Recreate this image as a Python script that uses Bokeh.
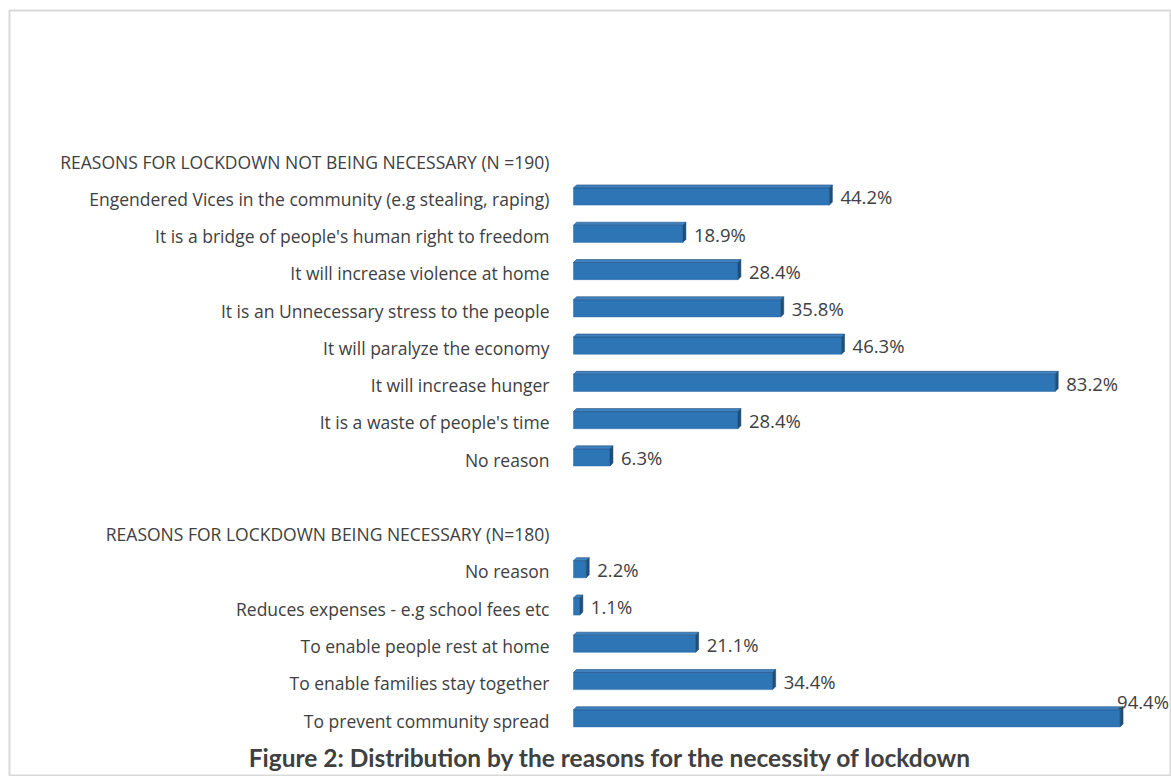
from bokeh.plotting import figure
from bokeh.models import Range1d, ColumnDataSource, Label
from bokeh.core.properties import value
from bokeh.embed import file_html
from bokeh.resources import INLINE

# ---- data ----
header_not_necessary = "REASONS FOR LOCKDOWN NOT BEING NECESSARY (N =190)"
not_necessary_reasons = [
    "Engendered Vices in the community (e.g stealing, raping)",
    "It is a bridge of people's human right to freedom",
    "It will increase violence at home",
    "It is an Unnecessary stress to the people",
    "It will paralyze the economy",
    "It will increase hunger",
    "It is a waste of people's time",
    "No reason",
]
not_necessary_pct = [44.2, 18.9, 28.4, 35.8, 46.3, 83.2, 28.4, 6.3]

header_necessary = "REASONS FOR LOCKDOWN BEING NECESSARY (N=180)"
necessary_reasons = [
    "No reason",
    "Reduces expenses - e.g school fees etc",
    "To enable people rest at home",
    "To enable families stay together",
    "To prevent community spread",
]
necessary_pct = [2.2, 1.1, 21.1, 34.4, 94.4]

title_text = "Figure 2: Distribution by the reasons for the necessity of lockdown"

# ---- layout rows (row index, top to bottom) ----
labels, pos, vals = [], [], []
headers, header_pos = [header_not_necessary, header_necessary], []
r = 0
header_pos.append(r); r += 1
for name, v in zip(not_necessary_reasons, not_necessary_pct):
    labels.append(name); pos.append(r); vals.append(v); r += 1
r += 1  # blank row
header_pos.append(r); r += 1
for name, v in zip(necessary_reasons, necessary_pct):
    labels.append(name); pos.append(r); vals.append(v); r += 1

PX_X = 5.79    # pixels per percent
PX_Y = 37.27   # pixels per row
W, H = 1171, 776
FL, FT = 9, 10
X0_PIX = 573
ROW0_PIX = 161

x_start = (FL - X0_PIX) / PX_X
x_end = (W - X0_PIX) / PX_X
y_top = (FT - ROW0_PIX) / PX_Y
y_bot = (H - ROW0_PIX) / PX_Y

p = figure(width=W, height=H, output_backend="svg", toolbar_location=None,
           x_range=Range1d(x_start, x_end), y_range=Range1d(y_bot, y_top),
           min_border_left=FL, min_border_top=FT, min_border_right=0, min_border_bottom=0)
p.axis.visible = False
p.grid.visible = False
p.outline_line_color = "#d9d9d9"
p.outline_line_width = 2
p.background_fill_color = "white"
p.border_fill_color = "white"

bh = 0.46
dx = 3 / PX_X
dy = 3 / PX_Y
bar_y = [y - 0.06 for y in pos]

src = ColumnDataSource(dict(y=bar_y, v=vals, lab=labels, pos=pos,
                            txt=[f"{v:.1f}%" for v in vals]))

p.hbar(y="y", left=0, right="v", height=bh, source=src,
       fill_color="#2e75b6", line_color="#2a6aa8", line_width=0.5)

top_xs, top_ys, side_xs, side_ys = [], [], [], []
for y, v in zip(bar_y, vals):
    yt, yb = y - bh / 2, y + bh / 2
    top_xs.append([0, v, v + dx, dx])
    top_ys.append([yt, yt, yt - dy, yt - dy])
    side_xs.append([v, v + dx, v + dx, v])
    side_ys.append([yt, yt - dy, yb - dy, yb])
p.patches(top_xs, top_ys, fill_color="#3f82c2", line_color="#1f4e79", line_width=0.6)
p.patches(side_xs, side_ys, fill_color="#1f4e79", line_color="#1f4e79", line_width=0.5)

font = value("Open Sans")
# category labels
p.text(x=0, y="pos", text="lab", source=src, x_offset=-24,
       text_align="right", text_baseline="middle", text_font=font,
       text_font_size="17.5px", text_color="#404040")
p.text(x=[0, 0], y=header_pos, text=headers, x_offset=-24,
       text_align="right", text_baseline="middle", text_font=font,
       text_font_size="17.5px", text_color="#404040")

# value labels
normal = [i for i, v in enumerate(vals) if v < 90]
high = [i for i, v in enumerate(vals) if v >= 90]
p.text(x=[vals[i] for i in normal], y=[pos[i] for i in normal],
       text=[f"{vals[i]:.1f}%" for i in normal], x_offset=11, y_offset=-2,
       text_align="left", text_baseline="middle", text_font=font,
       text_font_size="18.5px", text_color="#404040")
p.text(x=[vals[i] for i in high], y=[pos[i] for i in high],
       text=[f"{vals[i]:.1f}%" for i in high], x_offset=-3, y_offset=-19,
       text_align="left", text_baseline="middle", text_font=font,
       text_font_size="18.5px", text_color="#404040")

p.add_layout(Label(x=(610 - X0_PIX) / PX_X, y=(757 - ROW0_PIX) / PX_Y, text=title_text,
                   text_align="center", text_baseline="middle",
                   text_font="Lato", text_font_style="bold",
                   text_font_size="24.5px", text_color="#404040"))

open("out.html", "w").write(file_html(p, INLINE))
